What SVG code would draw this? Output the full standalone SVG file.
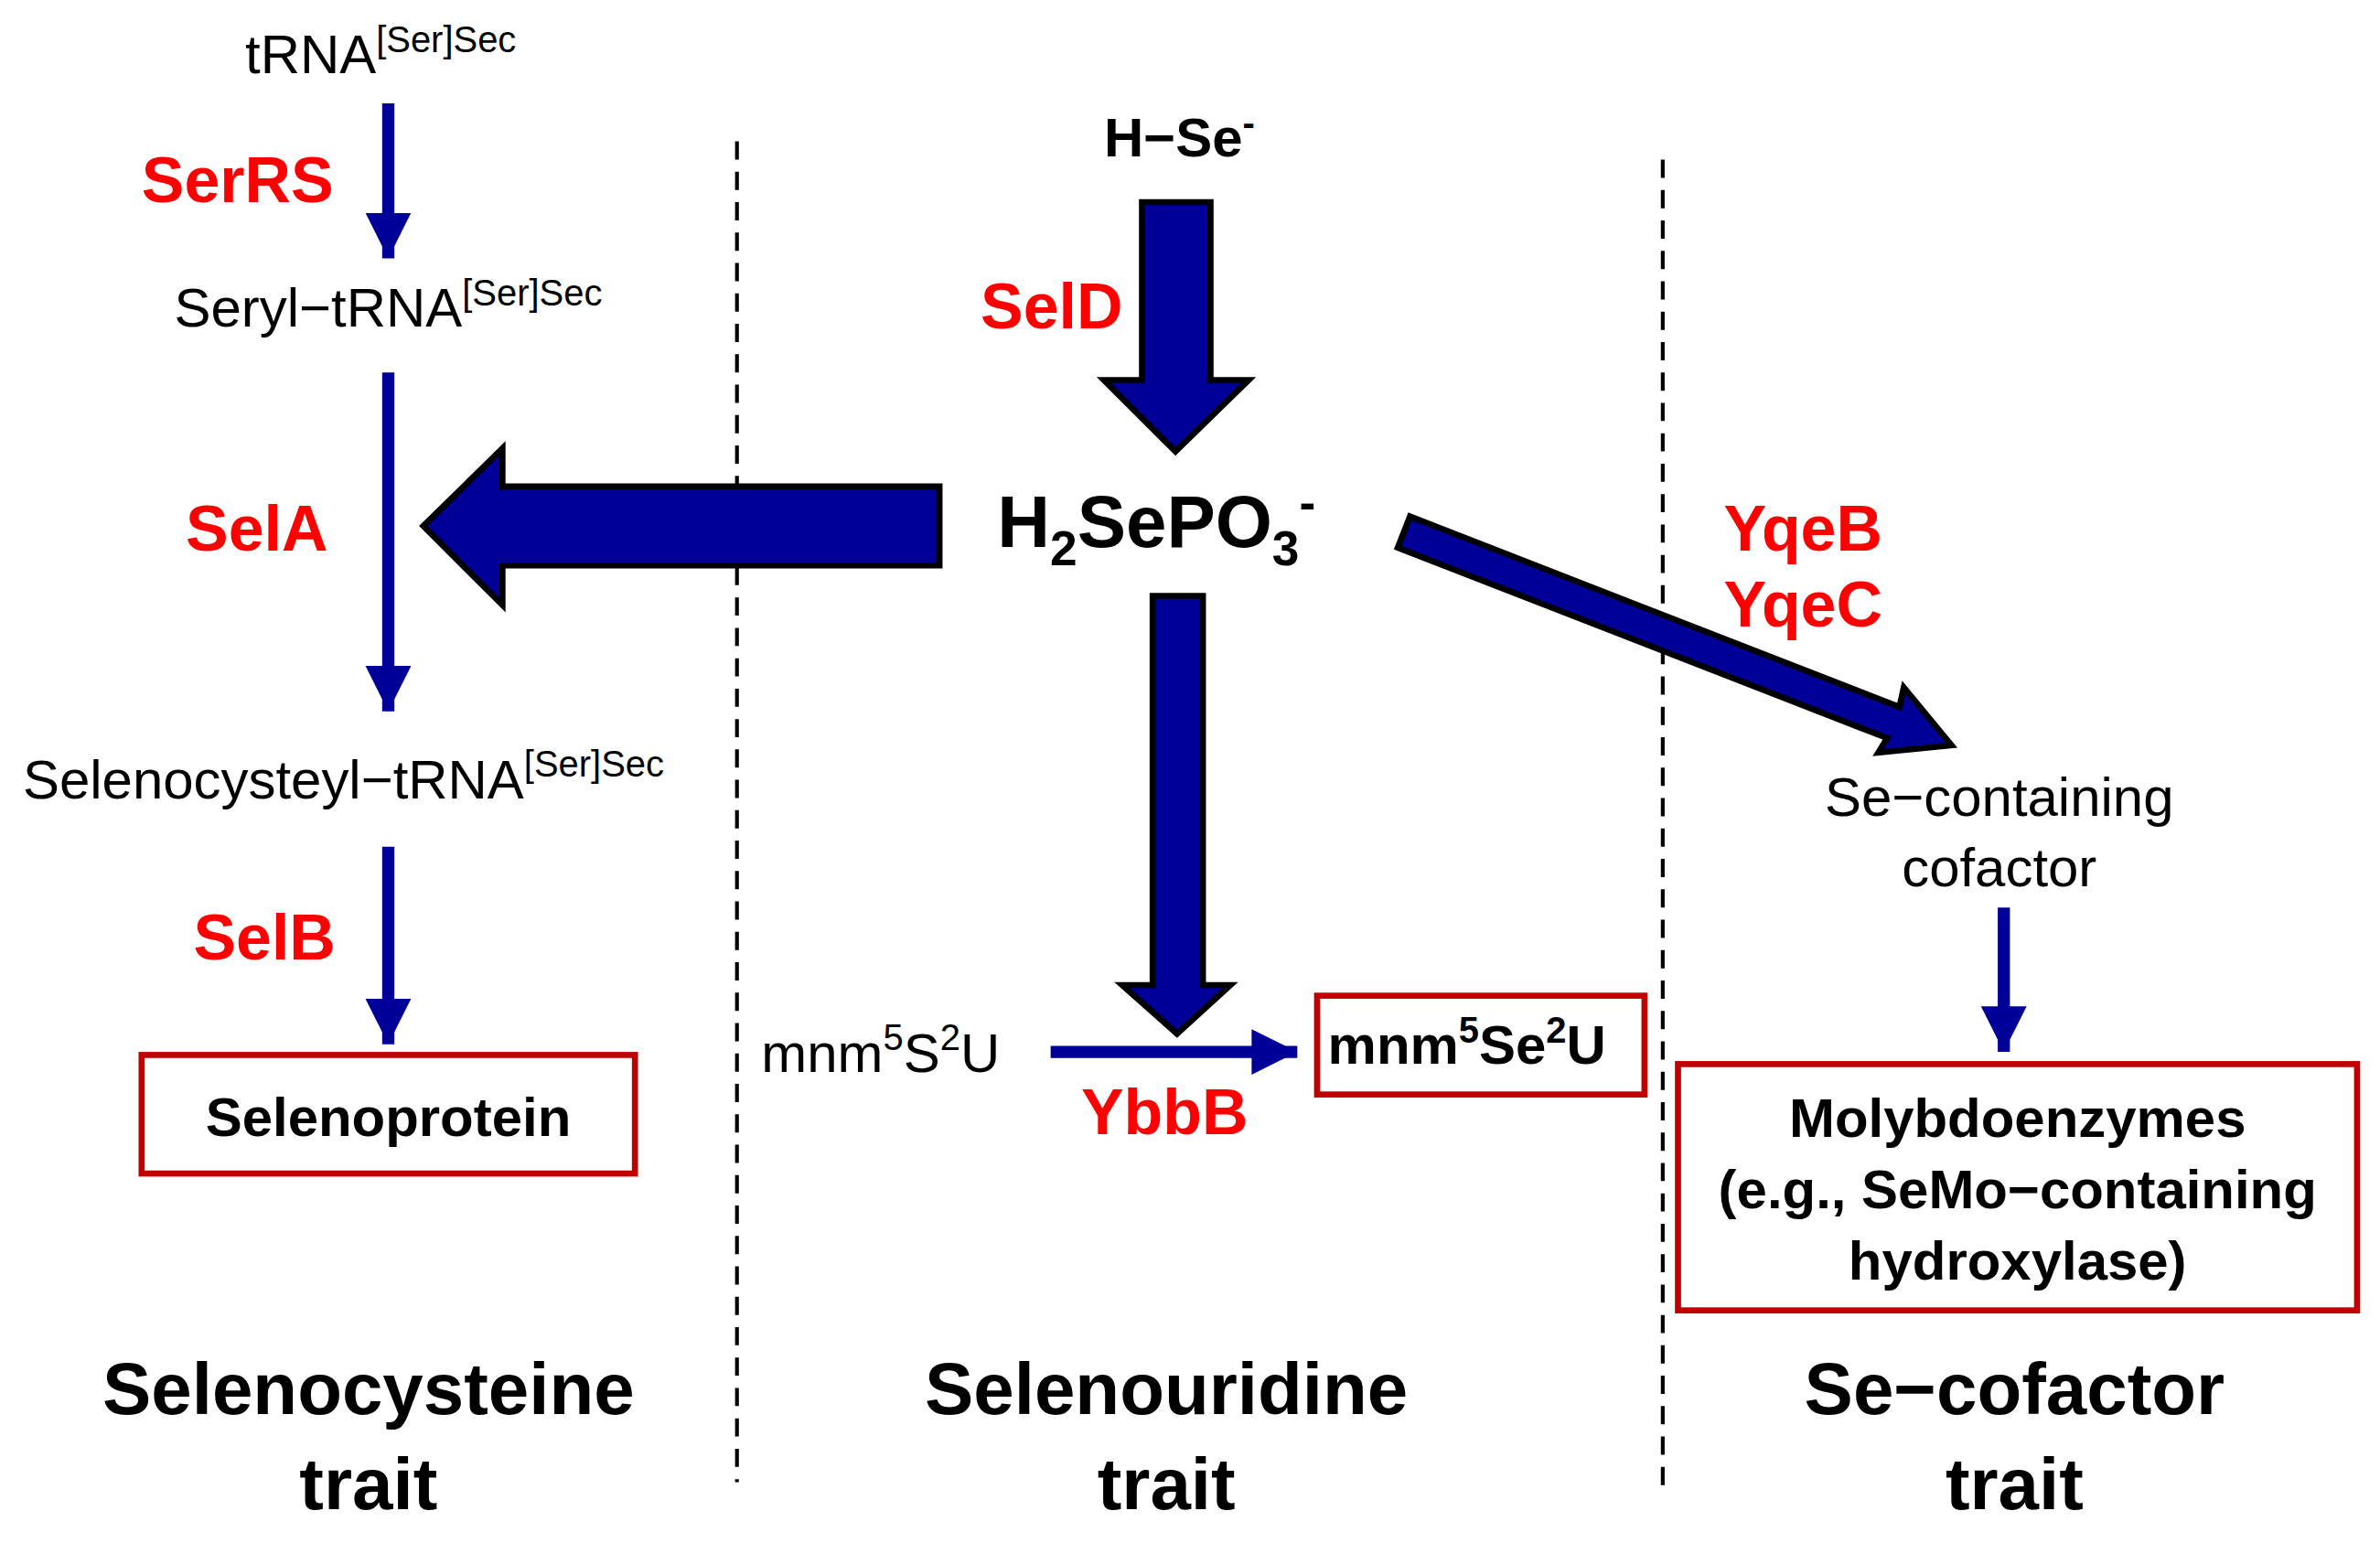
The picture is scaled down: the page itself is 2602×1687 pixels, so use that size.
<svg xmlns="http://www.w3.org/2000/svg" width="2602" height="1687" viewBox="0 0 2602 1687">
<style>
text{font-family:"Liberation Sans",Arial,sans-serif}
.n{font-size:36px;fill:#000}
.b{font-size:36px;font-weight:bold;fill:#000}
.r{font-size:42px;font-weight:bold;fill:#ff0000}
.t{font-size:48px;font-weight:bold;fill:#000}
.sup{font-size:24px}
.thin{stroke:#000099;stroke-width:8;fill:none}
.big{fill:#000099;stroke:#000;stroke-width:4;stroke-linejoin:miter}
.box{fill:#fff;stroke:#c00000;stroke-width:4}
.dash{stroke:#000;stroke-width:2.5;stroke-dasharray:12 8}
</style>
<defs>
<marker id="ah" markerUnits="userSpaceOnUse" markerWidth="32" markerHeight="32" refX="30" refY="15" orient="auto"><path d="M0,0 L30,15 L0,30 Z" fill="#000099"/></marker>
</defs>
<rect width="2602" height="1687" fill="#fff"/>
<g transform="scale(1.6647,1.662)">
<g id="dividers">
<line class="dash" x1="484" y1="93" x2="484" y2="975"/>
<line class="dash" x1="1092" y1="105" x2="1092" y2="985"/>
</g>
<g id="connectors">
<line class="thin" x1="255" y1="68" x2="255" y2="170" marker-end="url(#ah)"/>
<line class="thin" x1="255" y1="245" x2="255" y2="468" marker-end="url(#ah)"/>
<line class="thin" x1="255" y1="557" x2="255" y2="687" marker-end="url(#ah)"/>
<line class="thin" x1="1316" y1="597" x2="1316" y2="692" marker-end="url(#ah)"/>
<line class="thin" x1="690" y1="692" x2="852" y2="692" stroke-width="10" marker-end="url(#ah)"/>
<polygon class="big" points="750,133 795,133 795,250 820,250 772,297 725,250 750,250"/>
<polygon class="big" points="617,320 330,320 330,295 278,346 330,398 330,372 617,372"/>
<polygon class="big" points="757,392 790,392 790,648 808,648 773,680 737,648 757,648"/>
<polygon class="big" transform="translate(922,350) rotate(21.3)" points="0,-11 345,-11 343,-24 386,0 343,22 345,11 0,11"/>
</g>
<g id="tRNA"><text class="n" x="250" y="48" text-anchor="middle">tRNA<tspan class="sup" dy="-14">[Ser]Sec</tspan></text></g>
<g id="SerRS"><text class="r" x="93" y="133">SerRS</text></g>
<g id="seryl"><text class="n" x="255" y="215" text-anchor="middle">Seryl−tRNA<tspan class="sup" dy="-14">[Ser]Sec</tspan></text></g>
<g id="SelA"><text class="r" x="122" y="362">SelA</text></g>
<g id="selenocysteyl"><text class="n" x="15" y="525">Selenocysteyl−tRNA<tspan class="sup" dy="-14">[Ser]Sec</tspan></text></g>
<g id="SelB"><text class="r" x="127" y="631">SelB</text></g>
<g id="selenoprotein"><rect class="box" x="93" y="694" width="324" height="78"/><text class="b" x="255" y="747" text-anchor="middle">Selenoprotein</text></g>
<g id="HSe"><text class="b" x="725" y="103">H−Se<tspan class="sup" dy="-14">-</tspan></text></g>
<g id="SelD"><text class="r" x="644" y="216">SelD</text></g>
<g id="H2SePO3"><text class="t" x="655" y="360">H<tspan font-size="32" dy="12">2</tspan><tspan dy="-12">SePO</tspan><tspan font-size="32" dy="12">3</tspan><tspan font-size="32" dy="-30">-</tspan></text></g>
<g id="Yqe"><text class="r" x="1132" y="362">YqeB</text><text class="r" x="1132" y="412">YqeC</text></g>
<g id="cofactor"><text class="n" x="1313" y="537" text-anchor="middle">Se−containing</text><text class="n" x="1313" y="583" text-anchor="middle">cofactor</text></g>
<g id="molybdo"><rect class="box" x="1102" y="700" width="446" height="162"/>
<text class="b" x="1325" y="748" text-anchor="middle">Molybdoenzymes</text>
<text class="b" x="1325" y="795" text-anchor="middle">(e.g., SeMo−containing</text>
<text class="b" x="1325" y="842" text-anchor="middle">hydroxylase)</text></g>
<g id="mnmS2U"><text class="n" x="500" y="705">mnm<tspan class="sup" dy="-14">5</tspan><tspan dy="14">S</tspan><tspan class="sup" dy="-14">2</tspan><tspan dy="14">U</tspan></text></g>
<g id="YbbB"><text class="r" x="710" y="746">YbbB</text></g>
<g id="mnmSe2U"><rect class="box" x="865" y="655" width="215" height="65"/><text class="b" x="872" y="700">mnm<tspan class="sup" dy="-14">5</tspan><tspan dy="14">Se</tspan><tspan class="sup" dy="-14">2</tspan><tspan dy="14">U</tspan></text></g>
<g id="labels">
<text class="t" x="242" y="930" text-anchor="middle">Selenocysteine</text><text class="t" x="242" y="993" text-anchor="middle">trait</text>
<text class="t" x="766" y="930" text-anchor="middle">Selenouridine</text><text class="t" x="766" y="993" text-anchor="middle">trait</text>
<text class="t" x="1323" y="930" text-anchor="middle">Se−cofactor</text><text class="t" x="1323" y="993" text-anchor="middle">trait</text>
</g>
</g>
</svg>
